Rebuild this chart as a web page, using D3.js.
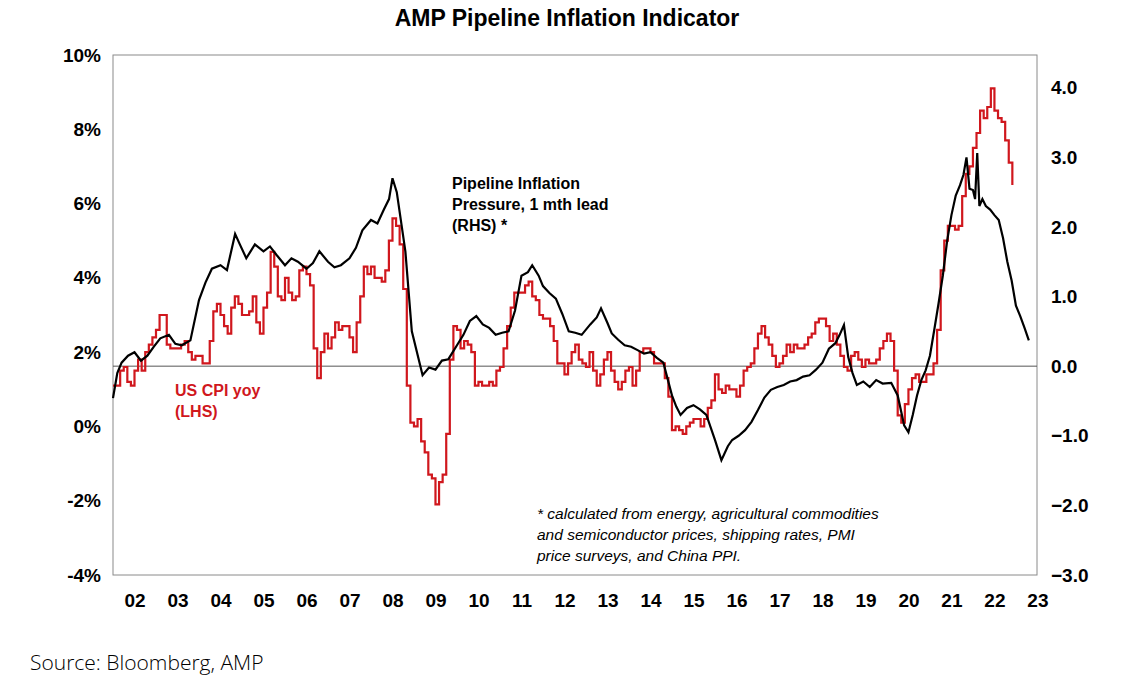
<!DOCTYPE html>
<html><head><meta charset="utf-8">
<script src="https://cdn.jsdelivr.net/npm/d3@7"></script>
<style>
body{margin:0;background:#fff;}
text{font-family:Arial,"Liberation Sans",sans-serif;}
</style></head>
<body><svg id="chart" width="1134" height="687"></svg>
<script>
// US CPI yoy, monthly from Jan 2002 (LHS, %)
var cpiValues = [
  1.1,1.1,1.5,1.6,1.2,1.1,1.5,1.8,1.5,2.0,2.2,2.4,
  2.6,3.0,3.0,2.2,2.1,2.1,2.1,2.2,2.3,2.0,1.8,1.9,
  1.9,1.7,1.7,2.3,3.1,3.3,3.0,2.7,2.5,3.2,3.5,3.3,
  3.0,3.0,3.1,3.5,2.8,2.5,3.2,3.6,4.7,4.3,3.5,3.4,
  4.0,3.6,3.4,3.5,4.2,4.3,4.1,3.8,2.1,1.3,2.0,2.5,
  2.1,2.4,2.8,2.6,2.7,2.7,2.4,2.0,2.8,3.5,4.3,4.1,
  4.3,4.0,4.0,3.9,4.2,5.0,5.6,5.4,4.9,3.7,1.1,0.1,
  0.0,0.2,-0.4,-0.7,-1.3,-1.4,-2.1,-1.5,-1.3,-0.2,1.8,2.7,
  2.6,2.1,2.3,2.2,2.0,1.1,1.2,1.1,1.1,1.2,1.1,1.5,
  1.6,2.1,2.7,3.2,3.6,3.6,3.6,3.8,3.9,3.5,3.4,3.0,
  2.9,2.9,2.7,2.3,1.7,1.7,1.4,1.7,2.0,2.2,1.8,1.7,
  1.6,2.0,1.5,1.1,1.4,1.8,2.0,1.5,1.2,1.0,1.2,1.5,
  1.6,1.1,1.5,2.0,2.1,2.1,2.0,1.7,1.7,1.7,1.3,0.8,
  -0.1,0.0,-0.1,-0.2,0.0,0.1,0.2,0.2,0.0,0.2,0.5,0.7,
  1.4,1.0,0.9,1.1,1.0,1.0,0.8,1.1,1.5,1.6,1.7,2.1,
  2.5,2.7,2.4,2.2,1.9,1.6,1.7,1.9,2.2,2.0,2.2,2.1,
  2.1,2.2,2.4,2.5,2.8,2.9,2.9,2.7,2.3,2.5,2.2,1.9,
  1.6,1.5,1.9,2.0,1.8,1.6,1.8,1.7,1.7,1.8,2.1,2.3,
  2.5,2.3,1.5,0.3,0.1,0.6,1.0,1.3,1.4,1.2,1.2,1.4,
  1.4,1.7,2.6,4.2,5.0,5.4,5.4,5.3,5.4,6.2,6.8,7.0,
  7.5,7.9,8.5,8.3,8.6,9.1,8.5,8.3,8.2,7.7,7.1,6.5
];
var cpiStart = 2002;

// Pipeline inflation pressure (RHS, index), read at decimal years
var pipeDates = [2002.0,2002.1,2002.2,2002.35,2002.5,2002.65,2002.8,2002.95,2003.1,2003.3,2003.45,2003.6,2003.8,
  2004.0,2004.15,2004.3,2004.5,2004.65,2004.84,2004.95,2005.1,2005.3,2005.5,2005.65,2005.8,
  2006.0,2006.15,2006.3,2006.5,2006.65,2006.8,2007.0,2007.15,2007.3,2007.5,2007.65,2007.8,
  2008.0,2008.15,2008.3,2008.42,2008.5,2008.6,2008.8,2008.95,2009.2,2009.35,2009.5,2009.65,2009.8,
  2010.0,2010.15,2010.3,2010.45,2010.6,2010.75,2010.9,2011.05,2011.2,2011.35,2011.5,2011.65,2011.75,2011.9,
  2012.0,2012.15,2012.3,2012.45,2012.6,2012.75,2012.9,2013.1,2013.25,2013.35,2013.5,2013.6,2013.75,2013.9,
  2014.05,2014.2,2014.35,2014.5,2014.65,2014.8,2015.0,2015.1,2015.2,2015.35,2015.5,2015.65,2015.8,
  2016.0,2016.15,2016.3,2016.4,2016.55,2016.7,2016.85,2017.0,2017.15,2017.3,2017.45,2017.6,2017.75,2017.9,
  2018.05,2018.2,2018.35,2018.5,2018.65,2018.8,2018.9,2019.0,2019.1,2019.2,2019.3,2019.45,2019.6,2019.75,2019.9,
  2020.1,2020.25,2020.4,2020.5,2020.6,2020.7,2020.8,2020.9,2021.0,2021.1,2021.2,2021.3,2021.4,2021.5,
  2021.6,2021.7,2021.78,2021.85,2021.92,2022.0,2022.05,2022.1,2022.15,2022.22,2022.3,2022.4,2022.5,
  2022.6,2022.7,2022.8,2022.9,2023.0,2023.1,2023.2,2023.3];
var pipeValues = [-0.46,-0.1,0.05,0.15,0.2,0.08,0.15,0.28,0.4,0.45,0.32,0.3,0.37,
  0.95,1.2,1.4,1.45,1.38,1.9,1.75,1.55,1.75,1.65,1.72,1.6,
  1.45,1.55,1.5,1.4,1.48,1.65,1.5,1.42,1.45,1.55,1.7,1.95,
  2.1,2.05,2.25,2.4,2.7,2.5,1.65,0.5,-0.13,-0.02,-0.05,0.08,0.1,
  0.3,0.45,0.65,0.72,0.6,0.55,0.45,0.48,0.5,0.8,1.3,1.35,1.45,1.3,
  1.15,1.05,0.97,0.75,0.5,0.48,0.45,0.6,0.7,0.83,0.62,0.47,0.38,0.3,
  0.28,0.23,0.18,0.2,0.12,0.05,-0.42,-0.58,-0.7,-0.6,-0.56,-0.62,-0.7,
  -1.06,-1.35,-1.15,-1.06,-1.0,-0.92,-0.8,-0.63,-0.45,-0.34,-0.3,-0.27,-0.22,-0.2,
  -0.15,-0.13,-0.05,0.05,0.25,0.33,0.45,0.59,0.13,-0.1,-0.27,-0.22,-0.3,-0.2,-0.25,
  -0.24,-0.42,-0.85,-0.95,-0.7,-0.42,-0.2,-0.06,0.15,0.52,0.9,1.3,1.8,2.17,
  2.45,2.6,2.75,3.0,2.55,2.53,2.4,3.06,2.3,2.4,2.3,2.25,2.17,
  2.1,1.84,1.5,1.23,0.87,0.72,0.55,0.37];

var leftTicks = [-4,-2,0,2,4,6,8,10];
var rightTicks = [-3,-2,-1,0,1,2,3,4];
var yearLabels = d3.range(2002, 2024);

var svg = d3.select('#chart');
var m = {l: 113, r: 1037, t: 55, b: 575};

var x = d3.scaleLinear().domain([2002, 2023.49]).range([m.l, m.r]);
var yL = d3.scaleLinear().domain([-4, 10]).range([m.b, m.t]);
var yR = d3.scaleLinear().domain([-3, 4.47]).range([m.b, m.t]);

svg.append('rect').attr('x', m.l).attr('y', m.t)
  .attr('width', m.r - m.l).attr('height', m.b - m.t)
  .attr('fill', 'none').attr('stroke', '#8a8a8a').attr('stroke-width', 1);

svg.append('line').attr('x1', m.l).attr('x2', m.r)
  .attr('y1', yR(0)).attr('y2', yR(0)).attr('stroke', '#555').attr('stroke-width', 1);

var lAxis = svg.append('g').attr('transform', 'translate(' + m.l + ',0)')
  .call(d3.axisLeft(yL).tickValues(leftTicks).tickSize(0).tickPadding(12).tickFormat(function (d) { return d + '%'; }));
var rAxis = svg.append('g').attr('transform', 'translate(' + m.r + ',0)')
  .call(d3.axisRight(yR).tickValues(rightTicks).tickSize(0).tickPadding(14).tickFormat(d3.format('.1f')));
var xAxis = svg.append('g').attr('transform', 'translate(0,' + m.b + ')')
  .call(d3.axisBottom(x).tickValues(yearLabels.map(function (y) { return y + 0.5; })).tickSize(0).tickPadding(19)
    .tickFormat(function (d) { return String(Math.floor(d) % 100).padStart(2, '0'); }));
[lAxis, rAxis, xAxis].forEach(function (a) {
  a.select('.domain').remove();
  a.selectAll('text').attr('font-size', 19).attr('font-weight', 'bold').attr('fill', '#000')
    .style('font-family', 'Arial, "Liberation Sans", sans-serif');
});

var cpi = cpiValues.map(function (v, i) { return [cpiStart + i / 12, v]; });
svg.append('path').datum(cpi)
  .attr('fill', 'none').attr('stroke', '#d0171d').attr('stroke-width', 2.2)
  .attr('d', d3.line().x(function (d) { return x(d[0]); }).y(function (d) { return yL(d[1]); }).curve(d3.curveStepAfter));

var pipe = pipeDates.map(function (d, i) { return [d, pipeValues[i]]; });
svg.append('path').datum(pipe)
  .attr('fill', 'none').attr('stroke', '#000').attr('stroke-width', 2.2)
  .attr('d', d3.line().x(function (d) { return x(d[0]); }).y(function (d) { return yR(d[1]); }));

svg.append('text').attr('x', 567).attr('y', 26).attr('text-anchor', 'middle')
  .attr('font-size', 23).attr('font-weight', 'bold').text('AMP Pipeline Inflation Indicator');

function block(lines, px, py, dy, attrs) {
  var t = svg.append('text').attr('x', px).attr('y', py);
  Object.keys(attrs).forEach(function (k) { t.attr(k, attrs[k]); });
  lines.forEach(function (s, i) {
    t.append('tspan').attr('x', px).attr('dy', i ? dy : 0).text(s);
  });
}
block(['Pipeline Inflation', 'Pressure, 1 mth lead', '(RHS) *'], 452, 189, 21, {'font-size': 16, 'font-weight': 'bold'});
block(['US CPI yoy', '(LHS)'], 175, 396, 21, {'font-size': 16, 'font-weight': 'bold', fill: '#d0171d'});
block(['* calculated from energy, agricultural commodities', 'and semiconductor prices, shipping rates, PMI',
  'price surveys, and China PPI.'], 537, 519, 21, {'font-size': 15.5, 'font-style': 'italic'});

svg.append('text').attr('x', 30).attr('y', 670).attr('font-size', 21)
  .style('font-family', '"Open Sans", sans-serif').attr('font-weight', 300).text('Source: Bloomberg, AMP');
</script></body></html>
